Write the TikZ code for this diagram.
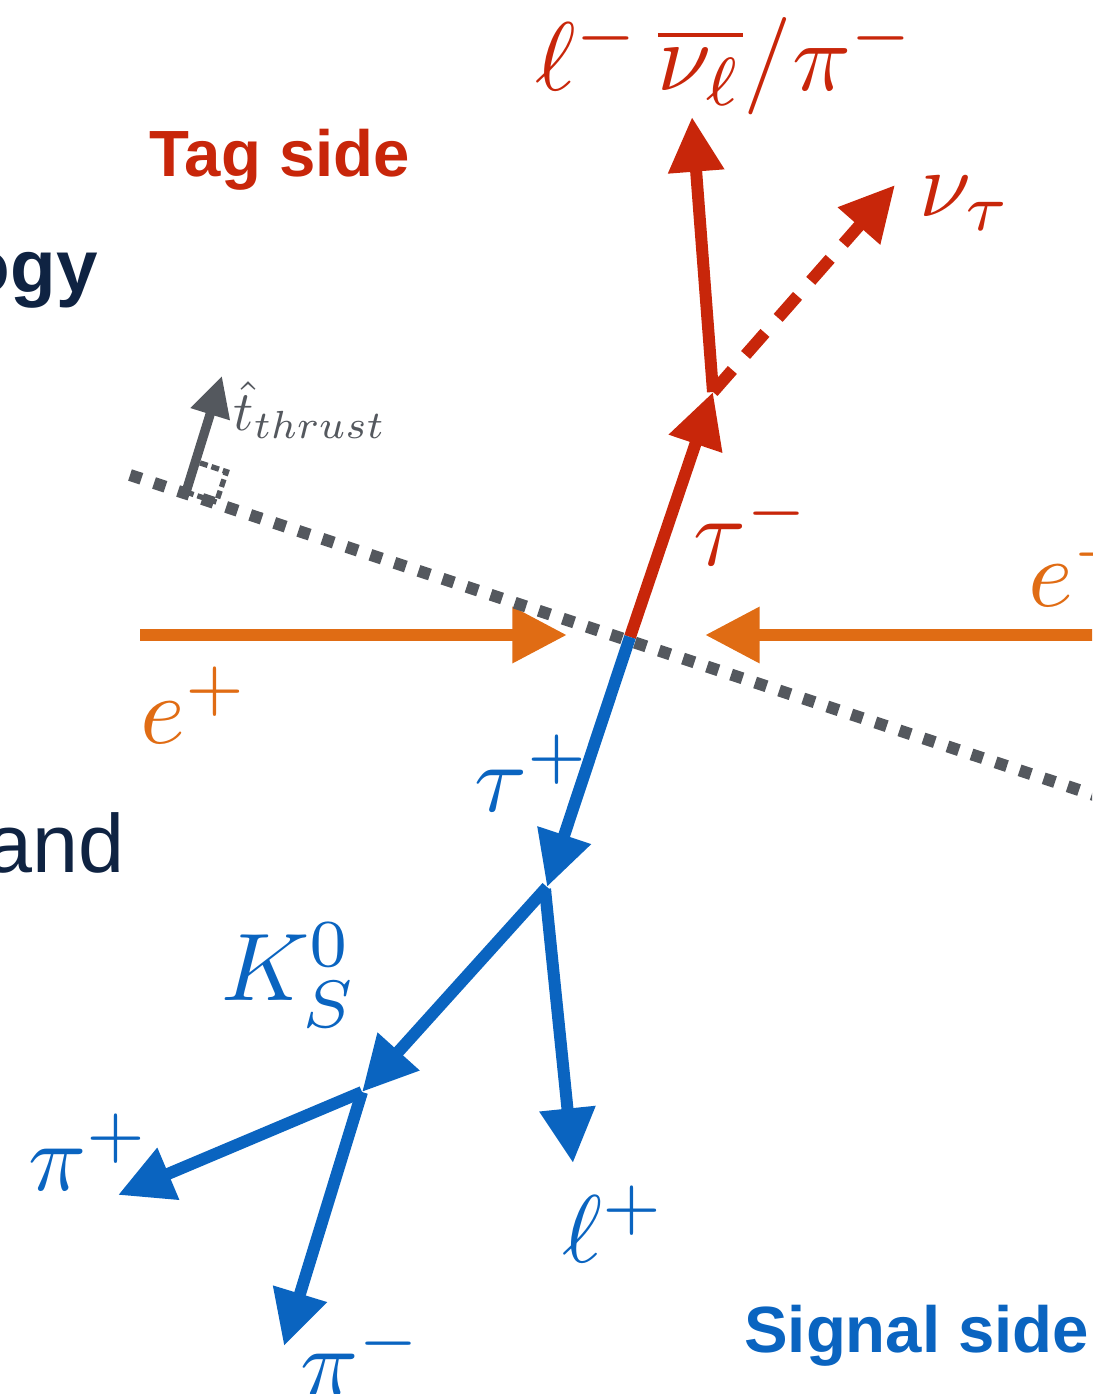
\documentclass[tikz,border=0pt]{standalone}
\usepackage{fontspec}
\setsansfont{Liberation Sans}
\usetikzlibrary{arrows.meta,calc}
\definecolor{tagred}{HTML}{C8260A}
\definecolor{beamor}{HTML}{E06C14}
\definecolor{sigblue}{HTML}{0A64C0}
\definecolor{thgray}{HTML}{54585E}
\definecolor{navy}{HTML}{0F2342}
\newcommand\mlab[2][7.2]{\scalebox{#1}{\fontsize{10}{12}\selectfont$#2$}}
\begin{document}
\begin{tikzpicture}[x=0.75pt,y=-0.75pt,
  bigtip/.style={-{Triangle[length=41pt,width=40pt]}},
  track/.style={line width=9pt,bigtip},
  lbl/.style={inner sep=0pt},
  sidelbl/.style={inner sep=0pt,font=\sffamily\bfseries\fontsize{49}{56}\selectfont},
  cutlbl/.style={inner sep=0pt,text=navy,font=\sffamily\fontsize{62}{70}\selectfont}]
\useasboundingbox (0,0) rectangle (1092,1394);
\clip (0,0) rectangle (1092,1394);
% coordinates
\coordinate (V) at (630,637);
\coordinate (Tm) at (713,392);
\coordinate (Lm) at (692,117);
\coordinate (Nu) at (895,185);
\coordinate (Tp) at (547,887);
\coordinate (Tp2) at (545,889);
\coordinate (Ks) at (362,1092);
\coordinate (Lp) at (573,1163);
\coordinate (Pp) at (118,1195);
\coordinate (Pm) at (284,1346);
\coordinate (EL) at (140,635);
\coordinate (ELt) at (567,635);
\coordinate (ER) at (1100,635);
\coordinate (ERt) at (705,635);
\coordinate (D1) at (130,475);
\coordinate (D2) at (1100,797);
\coordinate (P) at (186,492);
\coordinate (Pt) at (222,376);
% beams
\draw[beamor,track] (EL) -- (ELt);
\draw[beamor,track] (ER) -- (ERt);
% thrust axis
\draw[thgray,line width=9pt,dash pattern=on 9pt off 10pt] (D1) -- (D2);
% thrust vector
\draw[thgray,line width=4pt,dash pattern=on 6pt off 3pt]
  (P) -- ++(30.4,10.1) -- ++(10.1,-30.4) -- ++(-30.4,-10.1);
\draw[thgray,line width=7pt,-{Triangle[length=30pt,width=29pt]}] (P) -- (Pt);
% tag side
\draw[tagred,track] (V) -- (Tm);
\draw[tagred,track] (Tm) -- (Lm);
\draw[tagred,line width=9pt,dash pattern=on 22pt off 15pt,bigtip] (Tm) -- (Nu);
% signal side
\draw[sigblue,track] (V) -- (Tp);
\draw[sigblue,track] (Tp) -- (Ks);
\draw[sigblue,track] (Tp2) -- (Lp);
\draw[sigblue,track] (Ks) -- (Pp);
\draw[sigblue,track] (Ks) -- (Pm);
% labels
\node[lbl,text=tagred] (ltop) at (726,64) {\mlab[7.3]{\ell^-\,\overline{\nu_\ell}/\pi^-}};
\node[lbl,text=tagred] (lnu) at (966,203) {\mlab[7.0]{\nu_\tau}};
\node[lbl,text=tagred] (ltaum) at (752,527) {\mlab{\tau^-}};
\node[lbl,text=beamor,anchor=west] (lem) at (1028,568) {\mlab{e^-}};
\node[lbl,text=beamor] (lep) at (195,705) {\mlab{e^+}};
\node[lbl,text=sigblue] (ltaup) at (533,773) {\mlab{\tau^+}};
\node[lbl,text=sigblue] (lks) at (290,975) {\mlab{K_S^0}};
\node[lbl,text=sigblue] (lpip) at (89,1152) {\mlab{\pi^+}};
\node[lbl,text=sigblue] (llp) at (614,1224) {\mlab{\ell^+}};
\node[lbl,text=sigblue] (lpim) at (362,1357) {\mlab{\pi^-}};
\node[lbl,text=thgray] (lthr) at (310,410) {\mlab[4.2]{\hat{t}_{thrust}}};
\node[sidelbl,text=tagred] (ltag) at (280,160) {Tag side};
\node[sidelbl,text=sigblue,anchor=west] (lsig) at (744,1336) {Signal side};
\node[cutlbl,font=\sffamily\bfseries\fontsize{56}{64}\selectfont,anchor=east] (logy) at (98,280) {ogy};
\node[cutlbl,anchor=east] (land) at (125,843) {and};
\end{tikzpicture}
\end{document}
